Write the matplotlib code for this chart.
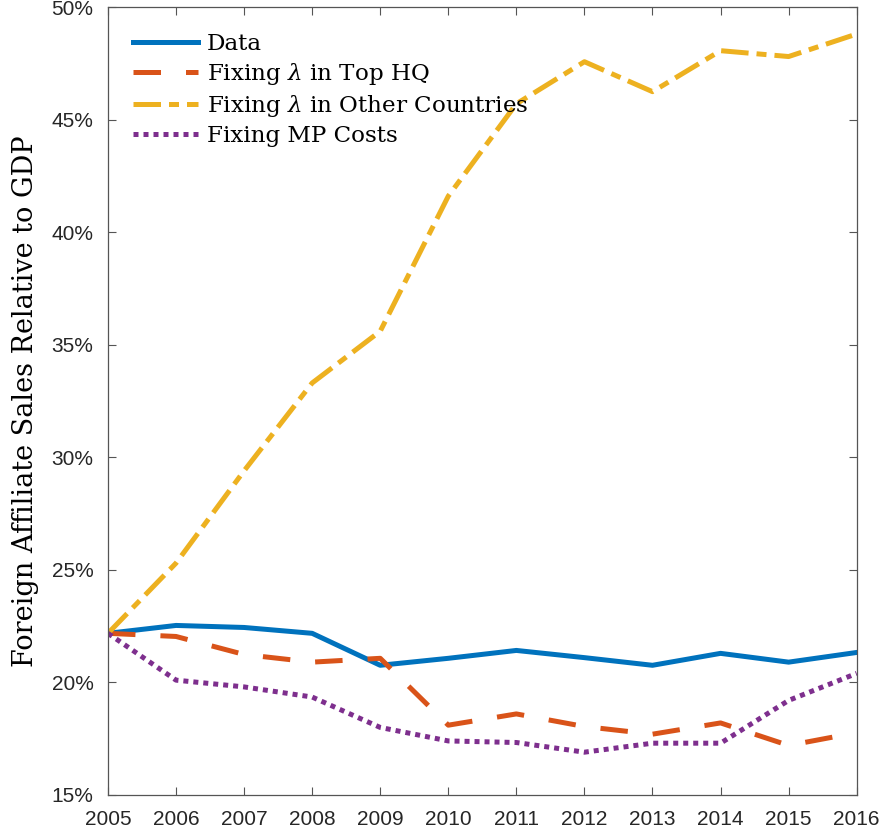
import matplotlib.pyplot as plt
from matplotlib.ticker import FuncFormatter

years = [2005, 2006, 2007, 2008, 2009, 2010, 2011, 2012, 2013, 2014, 2015, 2016]
data = [22.18, 22.53, 22.44, 22.18, 20.76, 21.07, 21.42, 21.10, 20.76, 21.29, 20.90, 21.33]
fix_top_hq = [22.18, 22.04, 21.24, 20.90, 21.07, 18.10, 18.60, 18.04, 17.70, 18.20, 17.20, 17.77]
fix_other = [22.18, 25.30, 29.40, 33.30, 35.60, 41.60, 45.70, 47.57, 46.24, 48.06, 47.80, 48.80]
fix_mp = [22.18, 20.10, 19.80, 19.35, 18.00, 17.40, 17.33, 16.90, 17.30, 17.30, 19.20, 20.40]

plt.rcParams['mathtext.fontset'] = 'dejavuserif'

fig = plt.figure(figsize=(8.85, 8.34), dpi=100)
ax = fig.add_axes([0.122, 0.0468, 0.846, 0.9448])

lw = 3.6
ax.plot(years, data, color='#0072BD', lw=lw, label='Data')
ax.plot(years, fix_top_hq, color='#D95319', lw=lw, dashes=(5.5, 5), dash_capstyle='butt',
        label=r'Fixing $\lambda$ in Top HQ')
ax.plot(years, fix_other, color='#EDB120', lw=lw, dashes=(5.5, 1.6, 2, 1.6), dash_capstyle='butt',
        label=r'Fixing $\lambda$ in Other Countries')
ax.plot(years, fix_mp, color='#7E2F8E', lw=lw, dashes=(1, 1), dash_capstyle='butt',
        label='Fixing MP Costs')

ax.set_xlim(2005, 2016)
ax.set_ylim(15, 50)
ax.set_xticks(years)
ax.set_yticks(range(15, 51, 5))
ax.yaxis.set_major_formatter(FuncFormatter(lambda v, p: f'{v:.0f}%'))
ax.tick_params(direction='in', top=True, right=True, length=6, width=0.8, color='#555555',
               labelsize=15, labelcolor='#262626', pad=10.5)
for lab in ax.get_xticklabels() + ax.get_yticklabels():
    lab.set_family('Liberation Sans')
for s in ax.spines.values():
    s.set_color('#555555')
    s.set_linewidth(0.9)

ax.set_ylabel('Foreign Affiliate Sales Relative to GDP', family='DejaVu Serif', fontsize=19.5, labelpad=9)

leg = ax.legend(loc='upper left', bbox_to_anchor=(0.015, 0.985), frameon=False,
                prop={'family': 'DejaVu Serif', 'size': 16.6},
                handlelength=2.8, handletextpad=0.4, labelspacing=0.27, borderaxespad=0.2)

fig.savefig('out.png', dpi=100)
